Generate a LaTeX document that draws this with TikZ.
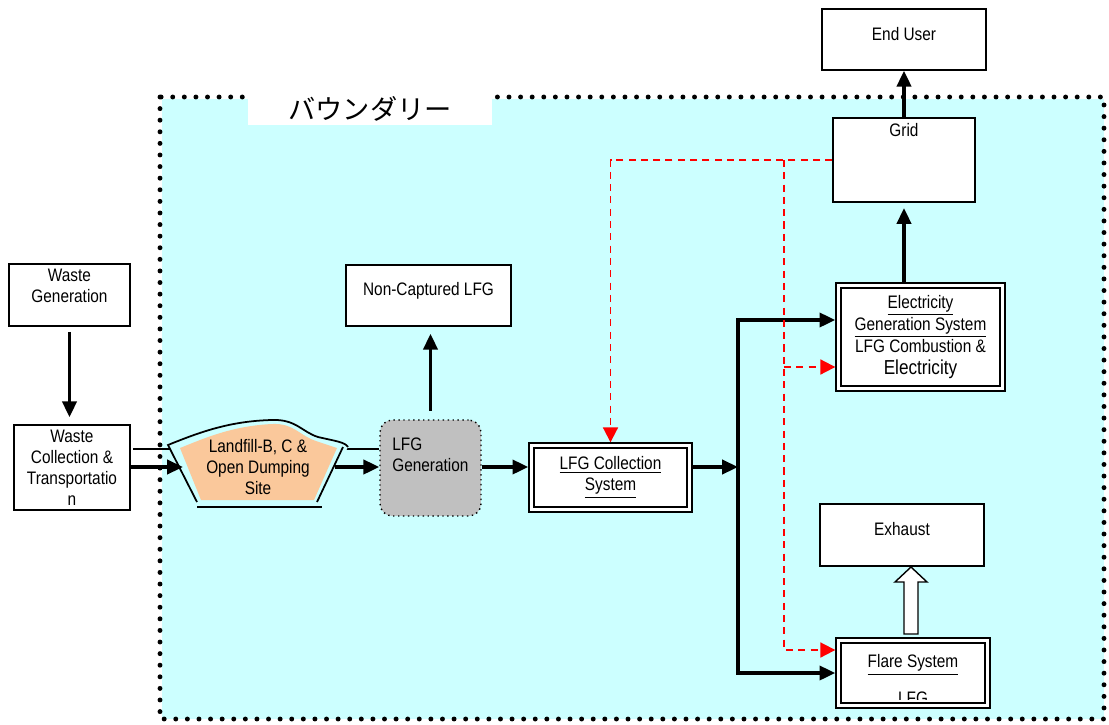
\documentclass[tikz,border=0pt]{standalone}
\usepackage{fontspec}
\setmainfont{Liberation Sans}[FakeStretch=0.85]
\newfontfamily\cjk{Noto Sans CJK JP}
\usetikzlibrary{arrows.meta,calc,positioning}
\definecolor{bndcyan}{RGB}{204,255,255}
\definecolor{lfpeach}{RGB}{250,200,155}
\definecolor{gengray}{RGB}{192,192,192}
\tikzset{
  box/.style={draw, line width=0.8pt, fill=white, align=center, inner sep=0pt,
    font=\fontsize{10.3}{12}\selectfont},
  dblbox/.style={box, path picture={\draw[line width=1.5pt]
    ([shift={(5,5)}]path picture bounding box.north west) rectangle
    ([shift={(-5,-5)}]path picture bounding box.south east);}},
  txt/.style={align=center, inner sep=0pt, font=\fontsize{10.3}{12}\selectfont},
  arr/.style={line width=2pt, -{Triangle[length=9pt,width=8pt]}},
  redarr/.style={red, line width=1.1pt, dash pattern=on 4pt off 3pt,
    -{Triangle[length=8.5pt,width=8.5pt]}},
}

\begin{document}
\begin{tikzpicture}[x=0.02cm,y=-0.02cm]
    \useasboundingbox (0,0) rectangle (1109,724);
    % boundary
    \fill[bndcyan] (162,99) rectangle (1104,719);
    \draw[line width=2.8pt, dash pattern=on 0pt off 6.6pt, line cap=round]
        (160,97) rectangle (1104,719);
    \node[fill=white, minimum width=4.88cm, minimum height=0.66cm, inner sep=0pt]
        (bndlbl) at (370,108.5) {\cjk\fontsize{15.5}{15.5}\selectfont バウンダリー};

    % boxes
    \node[box, minimum width=2.42cm, minimum height=1.24cm, text depth=10pt] (wgen) at (69.5,295)
        {Waste\\Generation};
    \node[box, minimum width=2.32cm, minimum height=1.70cm] (wcol) at (72,467.5)
        {Waste\\Collection \&\\Transportatio\\n};
    \node[box, minimum width=3.30cm, minimum height=1.22cm, text depth=7pt] (ncap) at (428.5,295.5)
        {Non-Captured LFG};
    \node[draw, dotted, line width=0.8pt, fill=gengray, rounded corners=7pt,
        minimum width=2.02cm, minimum height=1.92cm] (lfggen) at (430.5,468) {};
    \node[txt, align=left, anchor=west] (lfgtxt) at (392,455) {LFG\\Generation};
    \node[dblbox, minimum width=3.26cm, minimum height=1.38cm] (lfgcol) at (610.5,477.5)
        {\underline{LFG Collection}\\\underline{System}};
    \node[dblbox, minimum width=3.38cm, minimum height=2.16cm,
        font=\fontsize{10.3}{12.5}\selectfont] (elec) at (920.5,337)
        {\underline{Electricity}\\\underline{Generation System}\\LFG Combustion \&\\
         {\fontsize{11.5}{12.5}\selectfont Electricity}};
    \node[box, minimum width=2.84cm, minimum height=1.68cm] (grid) at (904,160) {};
    \node[txt, anchor=north] (gridlbl) at ([yshift=-3.4pt]grid.north) {Grid};
    \node[box, minimum width=3.28cm, minimum height=1.22cm, text depth=6pt] (enduser) at (904,39.5)
        {End User};
    \node[box, minimum width=3.28cm, minimum height=1.24cm, text depth=6.5pt] (exhaust) at (902,535)
        {Exhaust};
    \node[dblbox, minimum width=3.08cm, minimum height=1.40cm] (flare) at (913,673) {};
    \node[txt] (flaretxt) at (913,665) {\underline{Flare System}};
    \begin{scope}
        \clip (flare.north west) rectangle ([yshift=5pt]flare.south east);
        \node[txt] (flarelfg) at (913,698) {LFG};
    \end{scope}

    % landfill
    \coordinate (mainy) at (0,467);
    \coordinate (einy) at (0,320);
    \coordinate (ry1) at (0,367);
    \coordinate (ry2) at (0,650);
    \coordinate (lfin) at (183,467);
    \coordinate (lfout) at (335,467);
    \coordinate (jn) at (738,467);
    \coordinate (rsplit) at (784,160);
    \draw[line width=0.8pt] (133,449) -- (lfggen.west |- 0,449);
    \fill[bndcyan] (168,445) .. controls (200,432) and (230,421) .. (272,420)
        .. controls (296,419) and (302,432) .. (318,437)
        .. controls (335,441) and (345,442) .. (348,447) -- (318,504) -- (197,504) -- cycle;
    \fill[lfpeach] (180,448) .. controls (205,438) and (232,426) .. (272,424)
        .. controls (294,423) and (300,436) .. (316,441) -- (337,448)
        -- (314,500) -- (201,500) -- cycle;
    \draw[line width=1pt] (197,502) -- (168,445) .. controls (200,432) and (230,421) .. (272,420)
        .. controls (296,419) and (302,432) .. (318,437)
        .. controls (335,441) and (345,442) .. (348,447);
    \draw[line width=1pt] (343,447) -- (317,502);
    \draw[line width=1pt] (197,507) -- (322,507);
    \node[txt] (landfill) at (258,467) {Landfill-B, C \&\\Open Dumping\\Site};

    % flow arrows
    \draw[arr, shorten <=3pt, shorten >=4pt] (wgen.south) -- (wgen.south |- wcol.north);
    \draw[arr] (wcol.east |- mainy) -- (lfin);
    \draw[arr] (lfout) -- (lfggen.west |- mainy);
    \draw[arr, shorten <=5pt, shorten >=4pt] (lfggen.north) -- (lfggen.north |- ncap.south);
    \draw[arr] (lfggen.east |- mainy) -- (lfgcol.west |- mainy);
    \draw[arr] (lfgcol.east |- mainy) -- (jn);
    \draw[arr] (jn) |- (elec.west |- einy);
    \draw[arr] (jn) |- (flare.west);
    \draw[arr, shorten >=3pt] (grid.south |- elec.north) -- (grid.south);
    \draw[arr] (grid.north) -- (enduser.south);
    \draw[line width=0.8pt, fill=white] (911,634) ++(-7,0) -- ++(0,-52) -- ++(-9,0)
        -- ++(16,-15) -- ++(16,15) -- ++(-9,0) -- ++(0,52) -- cycle;

    % red dashed
    \draw[redarr] (grid.west) -| (lfgcol.north);
    \draw[redarr] (rsplit) |- (flare.west |- ry2);
    \draw[redarr] (rsplit |- ry1) -- (elec.west |- ry1);
\end{tikzpicture}
\end{document}
